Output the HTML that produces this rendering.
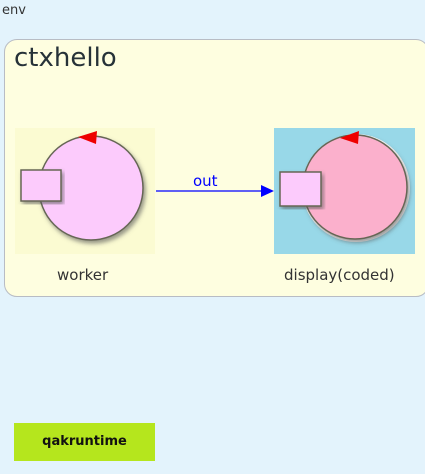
<!DOCTYPE html>
<html><head><style>
body{margin:0;width:425px;height:474px;background:#e3f3fc;position:relative;overflow:hidden;font-family:"DejaVu Sans","Liberation Sans",sans-serif}
.env{position:absolute;left:2px;top:3px;font-size:13px;color:#333}
.ctx{position:absolute;left:4px;top:39px;width:425px;height:258px;background:#fefee0;border:1px solid #b8bcc4;border-radius:13px;box-sizing:border-box}
.t{position:absolute;left:14px;top:43px;font-size:26px;color:#263238}
.lbl{position:absolute;font-size:15px;color:#333}
.q{position:absolute;left:14px;top:423px;width:141px;height:38px;background:#b5e61d;font-weight:bold;font-size:13px;text-align:center;line-height:38px;color:#111}
</style></head><body>
<div class="env">env</div>
<div class="ctx"></div>
<div class="t">ctxhello</div>
<svg width="425" height="474" style="position:absolute;left:0;top:0">
<defs><filter id="s"><feDropShadow dx="2" dy="3" stdDeviation="2" flood-color="#555" flood-opacity="0.6"/></filter></defs>
<rect x="15" y="128" width="140" height="126" fill="#fbfbd2"/>
<circle cx="91" cy="188" r="52" fill="#fccbfc" stroke="#665" stroke-width="1.5" filter="url(#s)"/>
<rect x="21" y="170" width="40" height="31" fill="#fccbfc" stroke="#665" stroke-width="1.5" filter="url(#s)"/>
<polygon points="78,137 97,131 96,144" fill="#e00"/>
<rect x="274" y="128" width="141" height="126" fill="#98d8e8"/>
<circle cx="356" cy="188" r="54" fill="#fff" />
<circle cx="355" cy="187" r="52" fill="#fbb0cc" stroke="#665" stroke-width="1.5" filter="url(#s)"/>
<rect x="280" y="172" width="41" height="34" fill="#fccbfc" stroke="#665" stroke-width="1.5" filter="url(#s)"/>
<polygon points="340,138 359,131 358,144" fill="#e00"/>
<line x1="156" y1="191" x2="262" y2="191" stroke="#00f" stroke-width="1.3"/>
<polygon points="274,191 261,185 261,197" fill="#00f"/>
<text x="193" y="186" font-size="15" fill="#00f" font-family="DejaVu Sans,sans-serif">out</text>
</svg>
<div class="lbl" style="left:57px;top:266px">worker</div>
<div class="lbl" style="left:284px;top:266px">display(coded)</div>
<div class="q">qakruntime</div>
</body></html>
